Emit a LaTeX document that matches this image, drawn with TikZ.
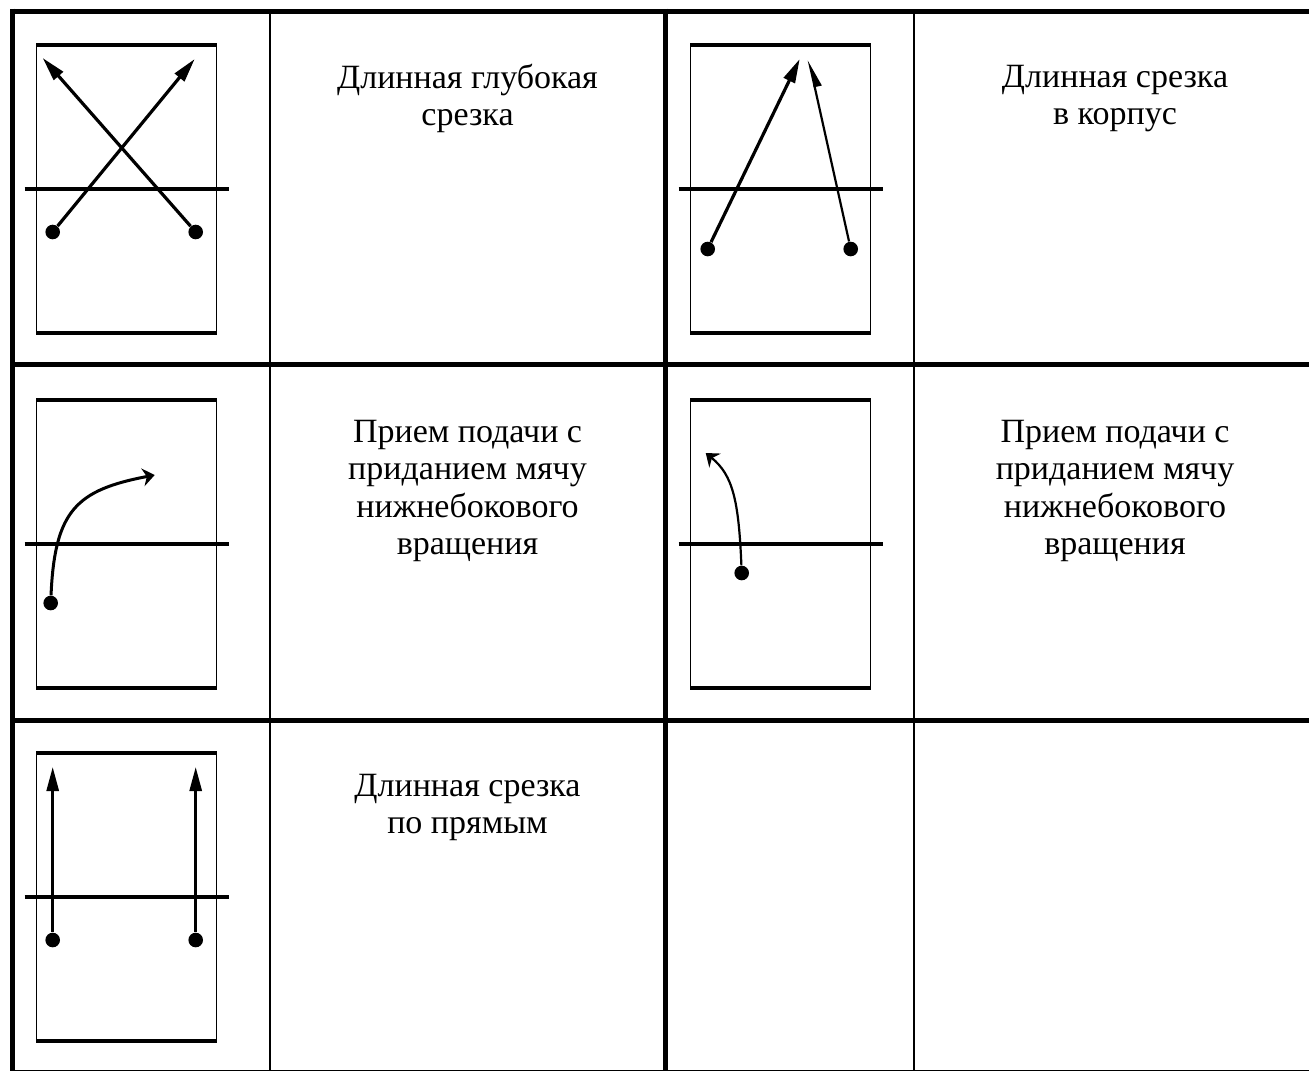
\documentclass[tikz,border=0pt]{standalone}
\usepackage{fontspec}
\setmainfont{Liberation Serif}
\usetikzlibrary{arrows.meta}

\begin{document}
\begin{tikzpicture}[x=0.5pt,y=-0.5pt,
  court/.style={line width=0.6pt},
  courtend/.style={line width=2.1pt},
  netline/.style={line width=2.1pt},
  ball/.style={circle,fill,inner sep=0pt,minimum size=7.3pt},
  shot/.style={line width=1.6pt,-{Triangle[length=12pt,width=6pt]}},
  curveshot/.style={line width=1.5pt,-{Stealth[length=6pt,width=9pt,inset=2pt]}},
  caption/.style={font=\fontsize{17pt}{18.6pt}\selectfont,align=center,anchor=north,inner sep=0pt}]
\useasboundingbox (0,0) rectangle (1309,1072);
% table
\foreach \ry in {11,364,720}
  \draw[line width=2.5pt] (10,\ry) -- (1320,\ry);
\draw[line width=0.6pt] (10,1070.5) -- (1320,1070.5);
\draw[line width=2.5pt] (12.5,8.5) -- (12.5,1071);
\draw[line width=2.5pt] (665,8.5) -- (665,1071);
\draw[line width=1pt] (270,11) -- (270,1071);
\draw[line width=1pt] (914,11) -- (914,1071);
% courts
\foreach \cx/\cy in {36.7/45, 690.7/45, 36.7/400, 690.7/400, 36.7/753} {
  \begin{scope}[shift={(\cx,\cy)}]
  \draw[court] (0,0) rectangle (180,288);
  \draw[courtend] (-0.5,0) -- (180.5,0) (-0.5,288) -- (180.5,288);
  \draw[netline] (-12,144) -- (192,144);
  \end{scope}
}
% long deep cut
\begin{scope}[shift={(36.7,45)}]
\node[ball] (xl) at (16,187) {};
\node[ball] (xr) at (159,187) {};
\coordinate (xlt) at (6,13);
\coordinate (xrt) at (158,14);
\draw[shot] (xl) -- (xrt);
\draw[shot] (xr) -- (xlt);
\end{scope}
% cut into the body
\begin{scope}[shift={(690.7,45)}]
\node[ball] (al) at (17,204) {};
\node[ball] (ar) at (160,204) {};
\coordinate (alt) at (109,14);
\coordinate (art) at (118,15);
\draw[shot] (al) -- (alt);
\draw[shot,line width=1.1pt,-{Triangle[length=12pt,width=7pt,right]}] (ar) -- (art);
\end{scope}
% side spin, left
\begin{scope}[shift={(36.7,400)}]
\node[ball] (sl) at (14,203) {};
\coordinate (slt) at (118,75);
\draw[curveshot] (sl) .. controls (18,110) and (40,90) .. (slt);
\end{scope}
% side spin, right
\begin{scope}[shift={(690.7,400)}]
\node[ball] (sr) at (51,173) {};
\coordinate (srt) at (15,53);
\draw[curveshot,line width=1.1pt] (sr) .. controls (48,100) and (42,75) .. (srt);
\end{scope}
% straight lines
\begin{scope}[shift={(36.7,753)}]
\node[ball] (pl) at (16,187) {};
\node[ball] (pr) at (159,187) {};
\coordinate (plt) at (16,14);
\coordinate (prt) at (159,14);
\draw[shot,line width=1.4pt] (pl) -- (plt);
\draw[shot,line width=1.4pt] (pr) -- (prt);
\end{scope}
% captions
\node[caption] (cap1) at (467.5,64) {Длинная глубокая\\срезка};
\node[caption] (cap2) at (1115,65) {Длинная срезка\\в корпус};
\node[caption] (cap3) at (467.5,420) {Прием подачи с\\приданием мячу\\нижнебокового\\вращения};
\node[caption] (cap4) at (1115,420) {Прием подачи с\\приданием мячу\\нижнебокового\\вращения};
\node[caption] (cap5) at (467.5,774) {Длинная срезка\\по прямым};
\end{tikzpicture}
\end{document}
